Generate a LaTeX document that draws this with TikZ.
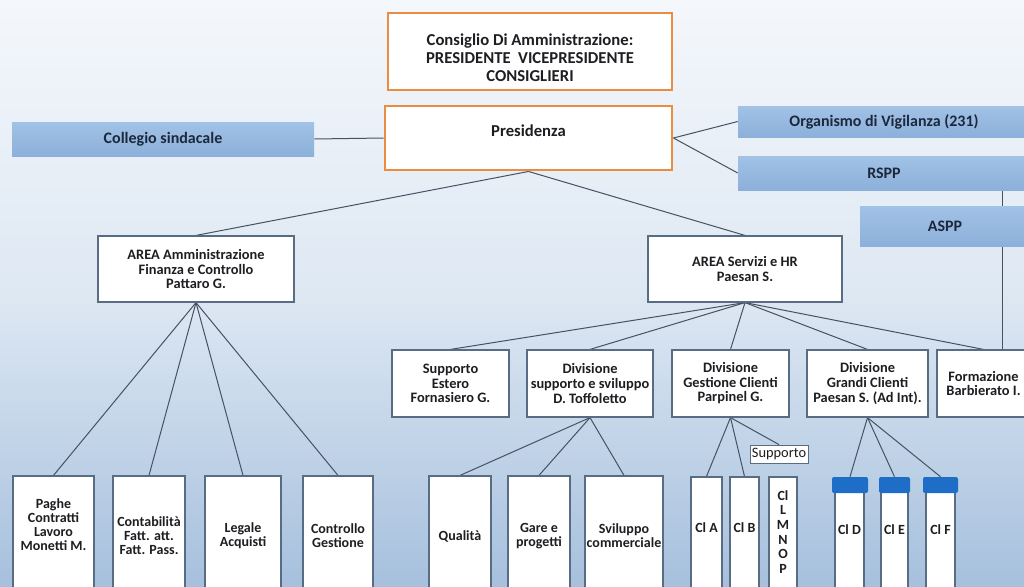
\documentclass[tikz,border=0pt]{standalone}
\usepackage{fontspec}
\setmainfont{Carlito}
\usetikzlibrary{backgrounds}
\definecolor{bgtop}{RGB}{244,247,251}
\definecolor{bgmid}{RGB}{222,232,243}
\definecolor{bgbot}{RGB}{166,192,221}
\definecolor{boxline}{RGB}{88,108,132}
\definecolor{linec}{RGB}{70,82,98}
\definecolor{orangeb}{RGB}{236,140,64}
\definecolor{bluetop}{RGB}{162,194,230}
\definecolor{bluebot}{RGB}{140,176,218}
\definecolor{capblue}{RGB}{30,110,200}
\definecolor{txt}{RGB}{30,30,34}
\definecolor{navy}{RGB}{28,40,60}
\tikzset{
  rect/.style n args={4}{minimum width={(#3-#1)*0.75pt}, minimum height={(#4-#2)*0.75pt},
    at={({(#1+#3)/2},{(#2+#4)/2})}},
  wbox/.style={draw=boxline, line width=0.9pt, fill=white, inner sep=0pt, align=center,
    text=txt, font=\bfseries\fontsize{10.8}{10.9}\selectfont},
  lbox/.style={wbox, font=\bfseries\fontsize{10.5}{10.5}\selectfont},
  obox/.style={wbox, draw=orangeb, line width=2.2pt, font=\bfseries\fontsize{12.5}{13.5}\selectfont},
  bbox/.style={draw=none, inner sep=0pt, top color=bluetop, bottom color=bluebot, align=center,
    text=navy, font=\bfseries\fontsize{12}{13}\selectfont},
  capbox/.style={draw=none, fill=capblue, rounded corners=1.5pt, inner sep=0pt},
  smallbox/.style={draw=boxline, line width=0.6pt, fill=white, inner sep=0pt, text=txt,
    font=\fontsize{10.8}{11}\selectfont},
  conn/.style={draw=linec, line width=0.75pt}
}
\begin{document}
\begin{tikzpicture}[x=0.75pt,y=-0.75pt]
\clip (0,0) rectangle (1024,586);
% top level
\node[obox, rect={388}{13}{672}{90}] (cda) {\rule{0pt}{18.5pt}Consiglio Di Amministrazione:\\PRESIDENTE\ \ VICEPRESIDENTE\\CONSIGLIERI};
\node[obox, rect={385}{106}{672}{170}] (pres) {Presidenza\\[-3pt]\mbox{}};
\node[bbox, rect={12}{122}{314}{156}] (coll) {Collegio sindacale};
\node[bbox, rect={738}{106}{1030}{137}] (odv) {Organismo di Vigilanza (231)};
\node[bbox, rect={738}{156}{1030}{190}] (rspp) {RSPP};
\node[bbox, rect={860}{206}{1030}{246}] (aspp) {ASPP};
% areas
\node[wbox, rect={98}{236}{294}{302}] (aam) {AREA Amministrazione\\Finanza e Controllo\\Pattaro G.};
\node[wbox, rect={648}{236}{842}{302}] (aser) {AREA Servizi e HR\\Paesan S.};
% level 2
\node[wbox, rect={392}{350}{509}{417}] (sest) {Supporto\\Estero\\Fornasiero G.};
\node[wbox, rect={527}{350}{653}{417}] (dsup) {Divisione\\supporto e sviluppo\\D. Toffoletto};
\node[wbox, rect={672}{350}{789}{417}] (dges) {Divisione\\Gestione Clienti\\Parpinel G.};
\node[wbox, rect={807}{350}{928}{417}] (dgra) {Divisione\\Grandi Clienti\\Paesan S. (Ad Int).};
\node[wbox, rect={937}{350}{1030}{417}] (form) {Formazione\\Barbierato I.};
% level 3 left
\node[lbox, rect={13}{476}{94}{596}] (pag) {Paghe\\Contratti\\Lavoro\\Monetti M.\\[6pt]\mbox{}};
\node[lbox, rect={113}{476}{185}{596}] (cont) {Contabilità\\Fatt. att.\\Fatt. Pass.};
\node[lbox, rect={205}{476}{281}{596}] (leg) {Legale\\Acquisti};
\node[lbox, rect={303}{476}{373}{596}] (ctrl) {Controllo\\Gestione};
% level 3 right
\node[lbox, rect={429}{476}{491}{596}] (qual) {Qualità};
\node[lbox, rect={508}{476}{570}{596}] (gare) {Gare e\\progetti};
\node[lbox, rect={585}{476}{663}{596}] (svil) {Sviluppo\\commerciale};
\node[lbox, rect={691}{477}{722}{596}] (cla) {Cl A\\[2.3pt]\mbox{}};
\node[lbox, rect={730}{477}{759}{596}] (clb) {Cl B\\[2.3pt]\mbox{}};
\node[lbox, rect={769}{477}{797}{596}, font=\bfseries\fontsize{10.5}{11}\selectfont] (cll) {Cl\\L\\M\\N\\O\\P\\[-4pt]\mbox{}};
\node[smallbox, rect={750}{445}{808}{463}] (supp) {Supporto};
\node[lbox, rect={835}{488}{864}{596}] (cld) {Cl D\\[7.5pt]\mbox{}};
\node[lbox, rect={881}{488}{908}{596}] (cle) {Cl E\\[7.5pt]\mbox{}};
\node[lbox, rect={926}{488}{955}{596}] (clf) {Cl F\\[7.5pt]\mbox{}};
\node[capbox, rect={832}{477}{868}{493}] (capd) {};
\node[capbox, rect={879}{477}{910}{493}] (cape) {};
\node[capbox, rect={923}{477}{958}{493}] (capf) {};
\coordinate (vx) at (1002,0);
\begin{scope}[on background layer]
  \shade[top color=bgtop, bottom color=bgbot, middle color=bgmid] (0,0) rectangle (1024,586);
  \draw[conn] (coll.east) -- (pres.west);
  \draw[conn] (pres.east) -- (odv.west);
  \draw[conn] (pres.east) -- (rspp.west);
  \draw[conn] (pres.south) -- (aam.north);
  \draw[conn] (pres.south) -- (aser.north);
  \draw[conn] (rspp.south -| vx) -- (form.north -| vx);
  \foreach \t in {sest,dsup,dges,dgra,form} \draw[conn] (aser.south) -- (\t.north);
  \foreach \t in {pag,cont,leg,ctrl} \draw[conn] (aam.south) -- (\t.north);
  \foreach \t in {qual,gare,svil} \draw[conn] (dsup.south) -- (\t.north);
  \foreach \t in {cla,clb,supp} \draw[conn] (dges.south) -- (\t.north);
  \foreach \t in {capd,cape,capf} \draw[conn] (dgra.south) -- (\t.north);
\end{scope}
\end{tikzpicture}
\end{document}
